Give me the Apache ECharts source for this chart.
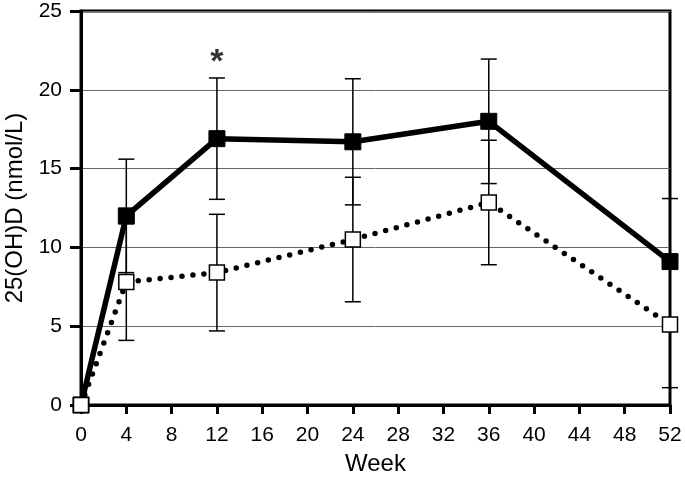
<!DOCTYPE html>
<html>
<head>
<meta charset="utf-8">
<script src="https://cdn.jsdelivr.net/npm/echarts@6/dist/echarts.min.js"></script>
<style>
  html, body { margin: 0; padding: 0; background: #fff; }
  #chart { width: 685px; height: 478px; }
</style>
</head>
<body>
<div id="chart"></div>
<script>
// weeks of follow-up
const weeks = [0, 4, 12, 24, 36, 52]
// filled squares (solid line)
const treatMean = [0, 12.0, 16.9, 16.7, 18.0, 9.1]
const treatErr = [0, 3.6, 3.85, 4.0, 3.95, 4.0]
// open squares (dotted line)
const placeboMean = [0, 7.8, 8.4, 10.5, 12.85, 5.1]
const placeboErr = [0, 3.7, 3.7, 3.95, 3.95, 4.0]
// significance marker
const starWeek = 12
const starLevel = 21.7

const font = 'Liberation Sans, Arial, Helvetica, sans-serif'

function toPoints (means) {
  return weeks.map((w, i) => [w, means[i]])
}

function toBars (means, errs) {
  const out = []
  weeks.forEach((w, i) => {
    if (errs[i] > 0) out.push([w, means[i] - errs[i], means[i] + errs[i]])
  })
  return out
}

function renderErrorBar (params, api) {
  const x = api.value(0)
  const lo = api.coord([x, api.value(1)])
  const hi = api.coord([x, api.value(2)])
  const hw = 8
  const style = { stroke: '#000', lineWidth: 1.5 }
  return {
    type: 'group',
    children: [
      { type: 'line', shape: { x1: hi[0], y1: hi[1], x2: lo[0], y2: lo[1] }, style: style },
      { type: 'line', shape: { x1: hi[0] - hw, y1: hi[1], x2: hi[0] + hw, y2: hi[1] }, style: style },
      { type: 'line', shape: { x1: lo[0] - hw, y1: lo[1], x2: lo[0] + hw, y2: lo[1] }, style: style }
    ]
  }
}

const chart = echarts.init(document.getElementById('chart'))

const option = {
  animation: false,
  textStyle: { fontFamily: font },
  grid: {
    left: 81,
    right: 15,
    top: 11,
    bottom: 73,
    outerBoundsMode: 'none',
    containLabel: false,
    show: true,
    borderColor: '#000',
    borderWidth: 3
  },
  xAxis: {
    type: 'value',
    min: 0,
    max: 52,
    interval: 4,
    name: 'Week',
    nameLocation: 'middle',
    nameGap: 47,
    nameTextStyle: { fontSize: 24, color: '#000', fontFamily: font },
    axisLine: { lineStyle: { color: '#000', width: 3 } },
    axisTick: { show: true, inside: false, length: 9, lineStyle: { color: '#000', width: 3 } },
    axisLabel: { fontSize: 21, color: '#000', margin: 20, fontFamily: font },
    splitLine: { show: false }
  },
  yAxis: {
    type: 'value',
    min: 0,
    max: 25,
    interval: 5,
    name: '25(OH)D (nmol/L)',
    nameLocation: 'middle',
    nameGap: 54,
    nameTextStyle: { fontSize: 24, color: '#000', fontFamily: font },
    axisLine: { show: true, lineStyle: { color: '#000', width: 3 } },
    axisTick: { show: true, inside: false, length: 11, lineStyle: { color: '#000', width: 3 } },
    axisLabel: { fontSize: 21, color: '#000', margin: 19, fontFamily: font },
    splitLine: { show: true, lineStyle: { color: '#666', width: 1 } }
  },
  series: [
    {
      type: 'custom',
      name: 'treat error',
      renderItem: renderErrorBar,
      data: toBars(treatMean, treatErr),
      z: 1
    },
    {
      type: 'custom',
      name: 'placebo error',
      renderItem: renderErrorBar,
      data: toBars(placeboMean, placeboErr),
      z: 1
    },
    {
      type: 'line',
      name: 'treat',
      data: toPoints(treatMean),
      symbol: 'rect',
      symbolSize: 16,
      showAllSymbol: true,
      lineStyle: { color: '#000', width: 5.5 },
      itemStyle: { color: '#000', borderColor: '#000', borderWidth: 1 },
      z: 3
    },
    {
      type: 'line',
      name: 'placebo',
      data: toPoints(placeboMean),
      symbol: 'rect',
      symbolSize: 15,
      showAllSymbol: true,
      lineStyle: { color: '#000', width: 5.5, type: [0, 11], cap: 'round' },
      itemStyle: { color: '#fff', borderColor: '#000', borderWidth: 1.5 },
      z: 4
    },
    {
      type: 'scatter',
      name: 'star',
      data: [[starWeek, starLevel]],
      symbolSize: 0,
      silent: true,
      label: {
        show: true,
        position: 'inside',
        formatter: '*',
        fontSize: 34,
        fontWeight: 'bold',
        color: '#000',
        fontFamily: font
      },
      z: 5
    }
  ]
}

chart.setOption(option)
</script>
</body>
</html>
